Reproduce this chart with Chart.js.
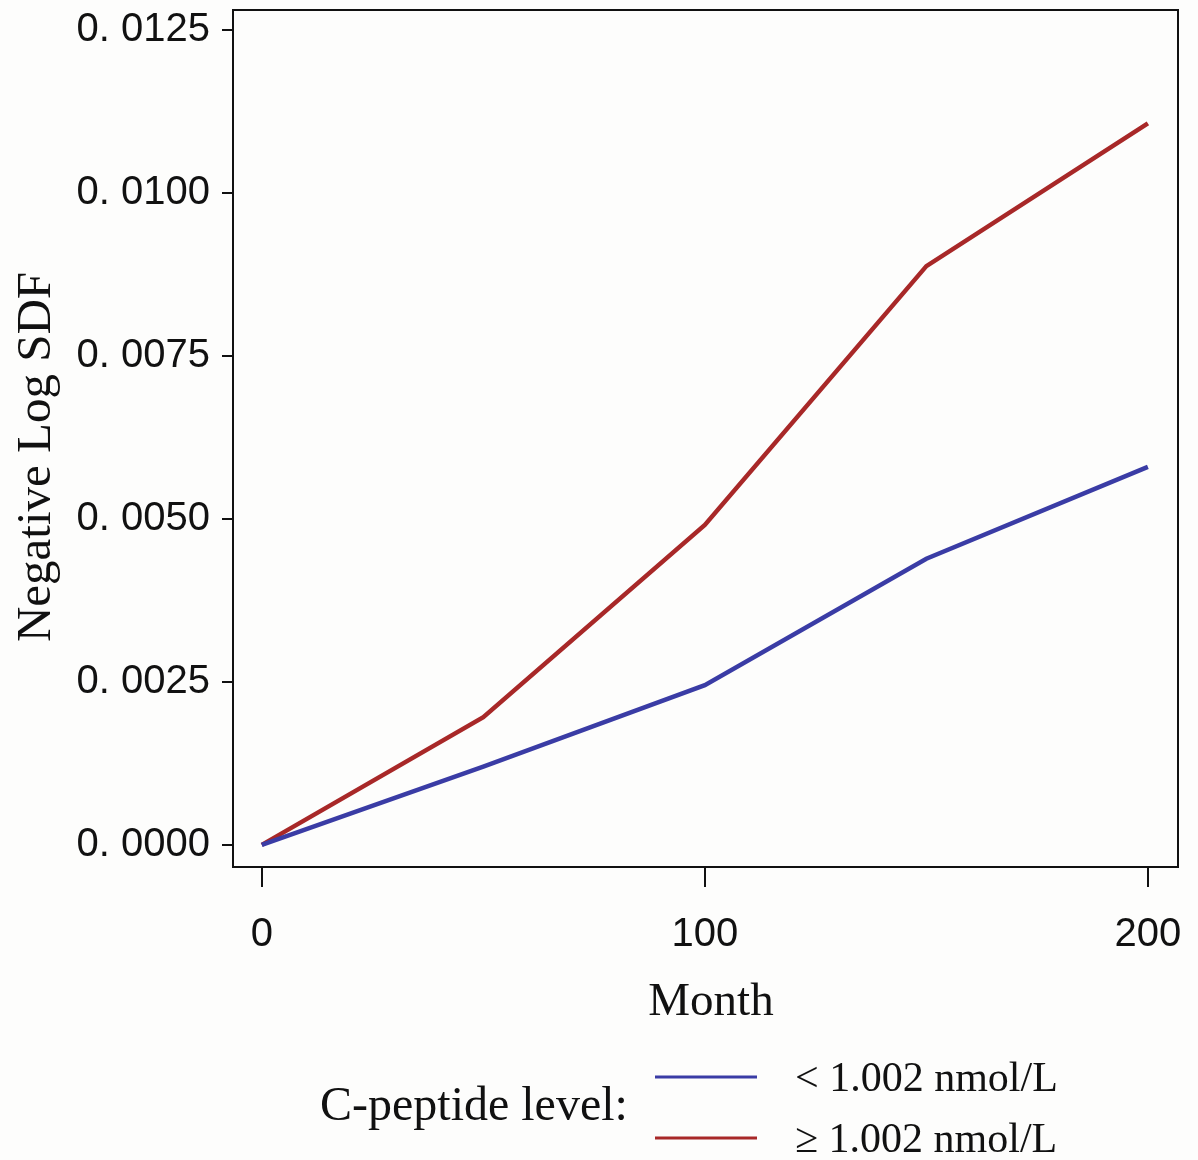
<!DOCTYPE html>
<html>
<head>
<meta charset="utf-8">
<script src="https://cdn.jsdelivr.net/npm/chart.js@4.4.1/dist/chart.umd.min.js"></script>
<style>
  html, body { margin: 0; padding: 0; background: #fdfdfc; }
  #wrap { width: 1198px; height: 1160px; position: relative; }
</style>
</head>
<body>
<div id="wrap"><canvas id="myChart"></canvas></div>
<script>
// values
const months = [0, 50, 100, 150, 200];
const lowCpep = [0, 0.00120, 0.00245, 0.00439, 0.00580];
const highCpep = [0, 0.00196, 0.00491, 0.00888, 0.01107];
const yTicks = [0, 0.0025, 0.005, 0.0075, 0.01, 0.0125];
const xTicks = [0, 100, 200];
const seriesLabels = ['< 1.002 nmol/L', '\u2265 1.002 nmol/L'];
const legendTitle = 'C-peptide level:';
const xTitle = 'Month';
const yTitle = 'Negative Log SDF';

const BLUE = 'rgb(58, 60, 165)';
const RED = 'rgb(168, 40, 40)';
const SERIF = '"Liberation Serif", "Times New Roman", serif';

function pts(ys) {
  return months.map((m, i) => ({ x: m, y: ys[i] }));
}

// frame, axis titles and the legend on the canvas
const extras = {
  id: 'extras',
  afterDraw(chart) {
    const ctx = chart.ctx;
    const a = chart.chartArea;
    ctx.save();
    ctx.strokeStyle = '#111';
    ctx.lineWidth = 2;
    ctx.strokeRect(a.left, a.top, a.right - a.left, a.bottom - a.top);

    ctx.fillStyle = '#111';
    ctx.textAlign = 'center';
    ctx.textBaseline = 'middle';
    ctx.font = '47px ' + SERIF;
    ctx.fillText(xTitle, 711, 1003);

    ctx.save();
    ctx.translate(37, 457);
    ctx.rotate(-Math.PI / 2);
    ctx.font = '49px ' + SERIF;
    ctx.fillText(yTitle, 0, 0);
    ctx.restore();

    // legend
    ctx.textAlign = 'left';
    ctx.font = '48px ' + SERIF;
    ctx.fillText(legendTitle, 320, 1107);
    ctx.font = '42px ' + SERIF;
    const cols = [BLUE, RED];
    const ys = [1077, 1138];
    for (let i = 0; i < 2; i++) {
      ctx.strokeStyle = cols[i];
      ctx.lineWidth = 3;
      ctx.beginPath();
      ctx.moveTo(655, ys[i]);
      ctx.lineTo(757, ys[i]);
      ctx.stroke();
      ctx.fillText(seriesLabels[i], 795, ys[i] + 3);
    }
    ctx.restore();
  }
};

const data = {
  datasets: [
    { label: seriesLabels[0], data: pts(lowCpep), borderColor: BLUE, backgroundColor: BLUE },
    { label: seriesLabels[1], data: pts(highCpep), borderColor: RED, backgroundColor: RED }
  ]
};

const tickFont = { family: '"Liberation Sans", Arial, sans-serif', size: 40 };

const config = {
  type: 'line',
  data: data,
  options: {
    responsive: true,
    maintainAspectRatio: false,
    animation: false,
    layout: { padding: { top: 10, right: 20, left: 0, bottom: 0 } },
    elements: {
      line: { borderWidth: 4.5, tension: 0 },
      point: { radius: 0 }
    },
    plugins: {
      legend: { display: false },
      tooltip: { enabled: false }
    },
    scales: {
      x: {
        type: 'linear',
        min: -6.5,
        max: 206.8,
        afterBuildTicks: (s) => { s.ticks = xTicks.map(v => ({ value: v })); },
        afterFit: (s) => { s.height = 293; s.paddingLeft = 0; s.paddingRight = 0; },
        grid: { drawOnChartArea: false, drawTicks: true, tickLength: 20, color: '#111', lineWidth: 2 },
        border: { display: false },
        ticks: { color: '#111', font: tickFont, padding: 24, maxRotation: 0 }
      },
      y: {
        type: 'linear',
        min: -0.00034,
        max: 0.01281,
        afterBuildTicks: (s) => { s.ticks = yTicks.map(v => ({ value: v })); },
        afterFit: (s) => { s.width = 233; s.paddingTop = 0; s.paddingBottom = 0; },
        grid: { drawOnChartArea: false, drawTicks: true, tickLength: 11, color: '#111', lineWidth: 2 },
        border: { display: false },
        ticks: {
          color: '#111', font: tickFont, padding: 12,
          callback: (v) => v.toFixed(4).replace('.', '. ')
        }
      }
    }
  },
  plugins: [extras]
};

const myChart = new Chart(document.getElementById('myChart'), config);
</script>
</body>
</html>
